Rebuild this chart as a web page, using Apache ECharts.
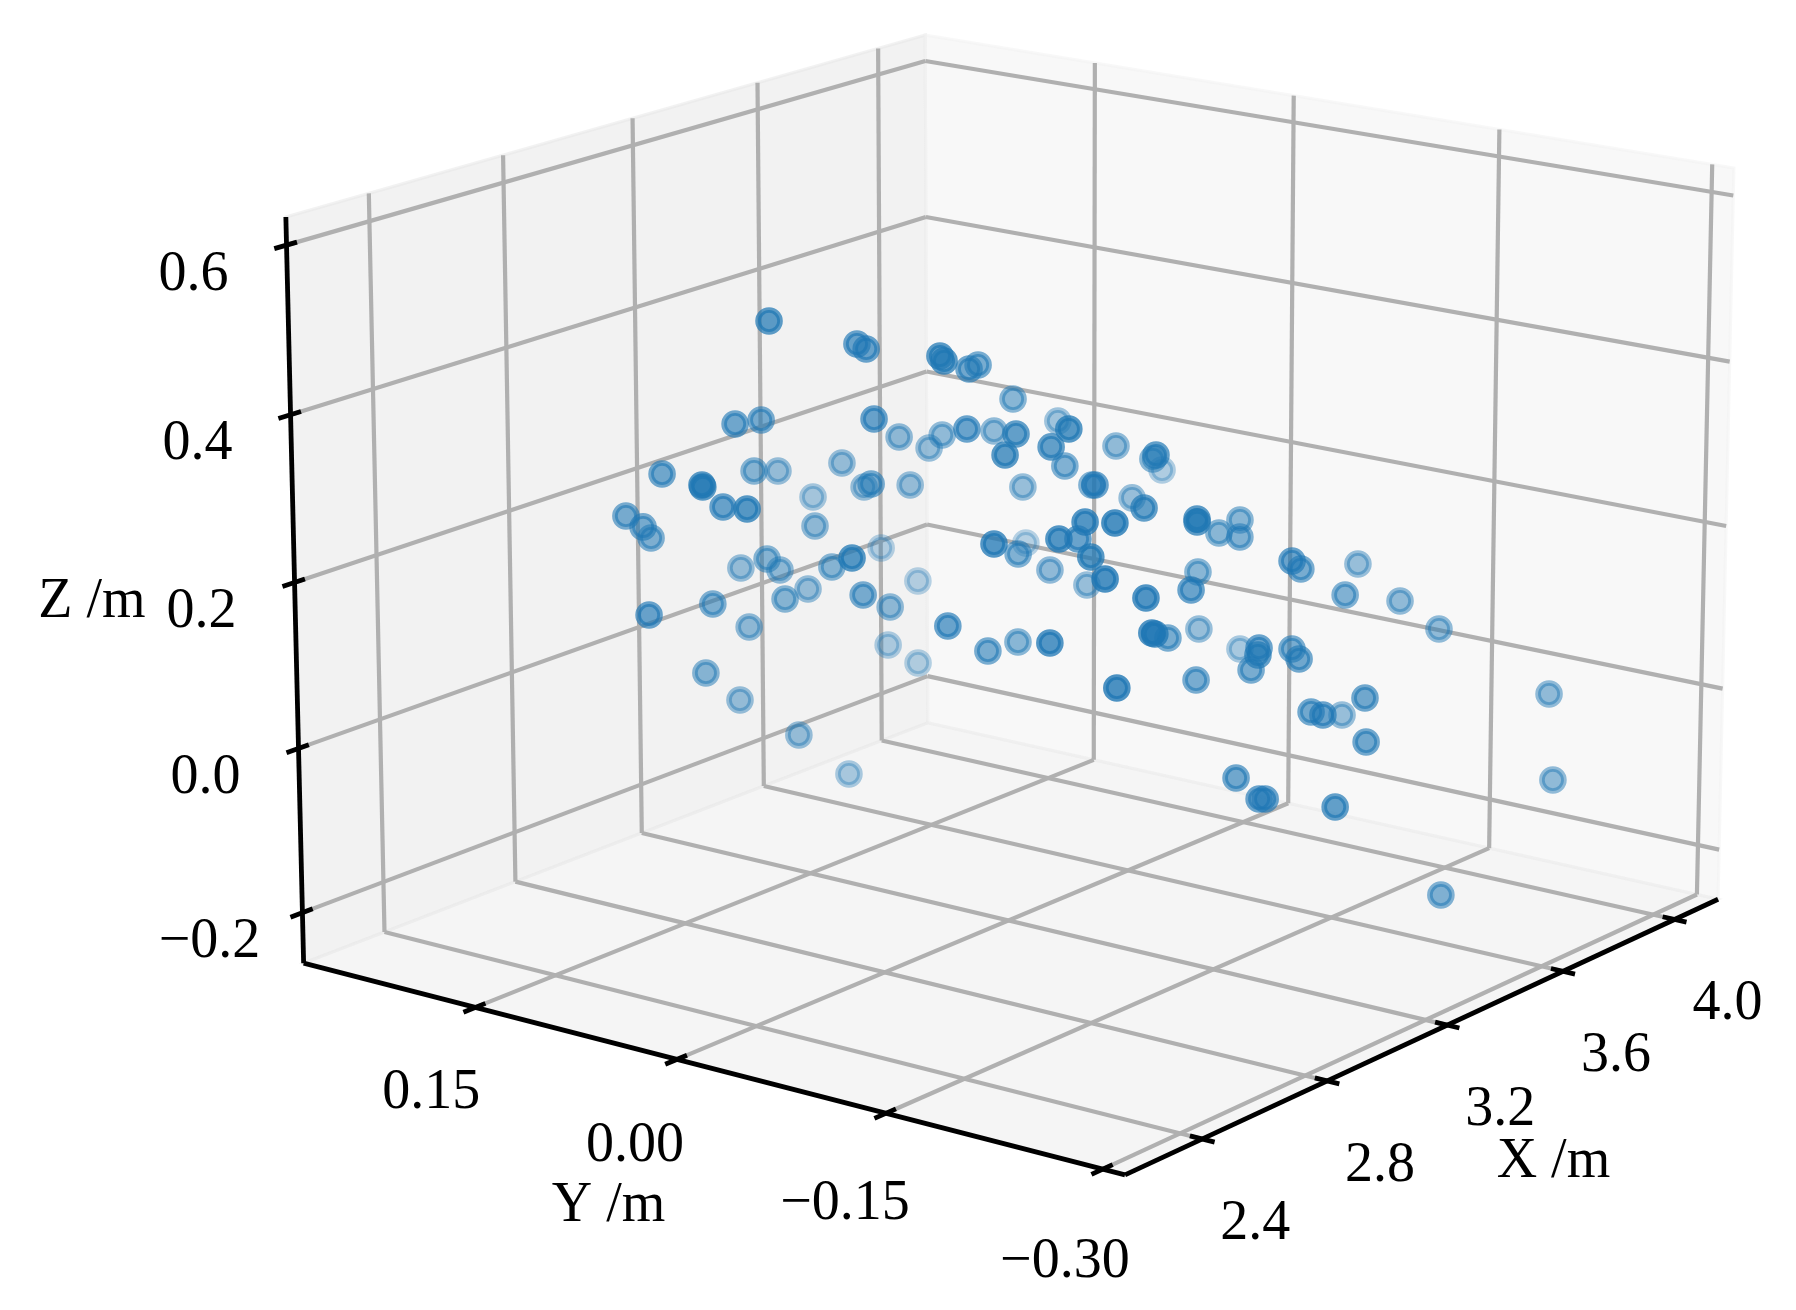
<!DOCTYPE html>
<html><head><meta charset="utf-8"><style>html,body{margin:0;padding:0;background:#fff}#c{width:1796px;height:1310px}</style>
<script src="https://cdn.jsdelivr.net/npm/echarts@6/dist/echarts.min.js"></script></head><body><div id="c"></div>
<script>
// ---- data, metres ----
const xValues=[2.346,2.605,2.614,2.482,2.485,2.830,2.949,2.539,2.675,2.595,3.146,3.198,3.283,2.697,3.261,2.435,2.165,2.165,2.388,2.165,2.855,3.092,3.172,3.333,3.009,3.189,2.777,3.245,2.479,2.495,2.603,2.263,2.907,3.605,2.834,2.949,3.007,3.636,3.079,2.839,2.723,3.065,2.648,2.261,2.889,2.597,3.467,3.559,2.845,2.715,2.951,3.007,3.301,3.190,3.556,2.555,2.644,2.679,2.517,3.116,3.379,3.400,2.794,3.330,3.878,3.140,2.821,3.506,2.760,2.707,2.706,3.378,3.408,3.292,2.473,2.398,2.437,2.780,2.530,2.366,3.786,3.026,3.270,3.415,2.468,3.337,2.889,3.016,3.241,3.749,3.392,3.674,2.363,3.096,2.387,2.461,2.507,3.059,3.531,2.337,3.075,3.789,2.944,2.831,3.143,3.199,3.094,3.087,2.990,3.667,3.154,3.138,2.974,2.884,2.891,2.859,3.709,3.813,3.782,3.382];
const yValues=[-0.0268,-0.0280,-0.0325,-0.1154,-0.1176,-0.0561,-0.0354,0.0450,0.0587,-0.0423,0.0681,0.0481,0.0775,-0.0849,0.0241,0.0736,-0.0216,-0.0222,0.0177,-0.0536,0.1077,0.1467,0.1172,0.1776,0.0992,0.1046,0.0027,0.0830,0.1117,0.1030,0.1239,-0.1041,0.0626,0.1893,0.0935,0.1115,0.1551,0.1681,0.1215,0.0815,-0.0037,0.0565,0.0893,0.0414,0.1207,-0.0939,0.1520,0.1504,-0.0658,0.1114,0.1432,0.1121,0.1438,-0.0060,0.0432,-0.1883,-0.1316,-0.1483,-0.1527,-0.0603,0.0295,-0.0344,-0.1958,-0.0766,0.0362,-0.0745,-0.1474,-0.0230,-0.1951,-0.2431,-0.2434,-0.1140,-0.1226,-0.1474,-0.2178,-0.2547,-0.2079,-0.1446,-0.2091,-0.2552,0.1191,-0.0467,-0.0150,-0.0099,-0.2605,-0.1079,-0.1999,-0.2426,-0.2014,-0.1359,-0.2011,-0.1818,-0.1799,-0.0307,-0.2129,-0.2661,-0.2581,-0.1469,-0.0669,-0.2697,-0.1635,-0.0418,-0.2355,-0.2588,-0.1877,-0.2045,-0.2316,-0.2417,-0.2702,-0.1425,-0.2650,-0.2694,-0.2137,-0.2490,-0.2517,-0.3065,-0.2026,-0.2602,-0.2700,-0.2726];
const zValues=[0.5828,0.5248,0.5193,0.5535,0.5482,0.4764,0.4597,0.4167,0.3995,0.4434,0.3154,0.3176,0.2811,0.4324,0.3220,0.3622,0.4165,0.4144,0.3483,0.3998,0.2993,0.2552,0.2642,0.1810,0.2150,0.2368,0.3287,0.2390,0.2939,0.2818,0.2470,0.3476,0.1915,0.0763,0.2006,0.1653,0.1447,0.0374,0.1207,0.1557,0.2064,0.1233,0.1735,0.2314,0.1009,0.2190,-0.0142,-0.0495,0.1444,0.0729,-0.0057,-0.0457,-0.1498,0.3795,0.2901,0.4842,0.4486,0.4346,0.4479,0.3263,0.2365,0.3048,0.4258,0.3120,0.1896,0.3051,0.3715,0.2238,0.3689,0.3794,0.3762,0.2289,0.2434,0.2470,0.3989,0.4203,0.3810,0.3130,0.3482,0.3617,0.0819,0.2285,0.1648,0.1247,0.3278,0.1852,0.2575,0.2888,0.2342,0.1481,0.1823,0.1291,0.3758,0.1071,0.2712,0.2910,0.2805,0.1584,0.0743,0.2476,0.1121,0.0041,0.1945,0.2107,0.1230,0.1461,0.1588,0.1008,0.1218,-0.0239,0.1160,0.0679,0.0288,0.0309,0.0309,0.0472,0.0974,0.0237,-0.0735,-0.1514];
const xTicks=[2.4,2.8,3.2,3.6,4.0];
const yTicks=[0.15,0.00,-0.15,-0.30];
const zTicks=[-0.2,0.0,0.2,0.4,0.6];
const xLim=[2.16,4.16],yLim=[-0.315,0.282],zLim=[-0.262,0.633];
// ---- camera: homogeneous projection of the unit box onto the picture plane ----
const camera=[[761.66502,-798.75455,-26.31091,1125.00562],[-187.39562,-139.92219,-807.25704,1174.83745],[0.09812,0.07447,-0.02519,1]];
const unit=(x,y,z)=>[(x-xLim[0])/(xLim[1]-xLim[0]),(y-yLim[0])/(yLim[1]-yLim[0]),(z-zLim[0])/(zLim[1]-zLim[0]),1];
const dot=(r,n)=>r[0]*n[0]+r[1]*n[1]+r[2]*n[2]+r[3]*n[3];
const depth=(x,y,z)=>dot(camera[2],unit(x,y,z));
const proj=(x,y,z)=>{const n=unit(x,y,z),w=dot(camera[2],n);return [dot(camera[0],n)/w,dot(camera[1],n)/w];};
const [x0,x1]=xLim,[y0,y1]=yLim,[z0,z1]=zLim;
const seg=(a,b)=>[...proj(...a),...proj(...b)];
const grid=[];
xTicks.forEach(x=>grid.push(seg([x,y0,z0],[x,y1,z0]),seg([x,y1,z0],[x,y1,z1])));
yTicks.forEach(y=>grid.push(seg([x0,y,z0],[x1,y,z0]),seg([x1,y,z0],[x1,y,z1])));
zTicks.forEach(z=>grid.push(seg([x0,y1,z],[x1,y1,z]),seg([x1,y1,z],[x1,y0,z])));
const axes=[seg([x0,y1,z0],[x0,y0,z0]),seg([x0,y0,z0],[x1,y0,z0]),seg([x0,y1,z0],[x0,y1,z1])];
xTicks.forEach(x=>axes.push(seg([x,y0-.0084,z0],[x,y0+.0084,z0])));
yTicks.forEach(y=>axes.push(seg([x0-.035,y,z0],[x0+.03,y,z0])));
zTicks.forEach(z=>axes.push(seg([x0-.035,y1,z],[x0+.03,y1,z])));
const poly=(g,...c)=>[...c.flatMap(p=>proj(...p)),g];
const panes=[
  poly(.90,[x0,y1,z0],[x1,y1,z0],[x1,y1,z1],[x0,y1,z1]),
  poly(.95,[x1,y0,z0],[x1,y1,z0],[x1,y1,z1],[x1,y0,z1]),
  poly(.925,[x0,y0,z0],[x1,y0,z0],[x1,y1,z0],[x0,y1,z0])];
// ---- text ----
const minus=s=>s.replace('-','\u2212');
const labels=[];
const place=(p,dx,dy,text)=>labels.push([p[0]+dx,p[1]+dy,text]);
const yLabelDx=[-44,-42,-41,-38],yLabelDy=[86,87,91,93];
xTicks.forEach(x=>place(proj(x,y0,z0),53,85,x.toFixed(1)));
yTicks.forEach((y,i)=>place(proj(x0,y,z0),yLabelDx[i],yLabelDy[i],minus(y.toFixed(2))));
zTicks.forEach(z=>place(proj(x0,y1,z),-93,30,minus(z.toFixed(1))));
place(proj((x0+x1)/2,y0,z0),118,132,'X /m');
place(proj(x0,(y0+y1)/2,z0),-91,141,'Y /m');
place(proj(x0,y1,(z0+z1)/2),-203,8,'Z /m');
// ---- marks: depth shading, far points first ----
const ws=xValues.map((x,i)=>depth(x,yValues[i],zValues[i]));
const wMin=Math.min(...ws),wMax=Math.max(...ws);
const order=xValues.map((_,i)=>i).sort((a,b)=>ws[b]-ws[a]);
const points=order.map(i=>{const a=1-0.62*(ws[i]-wMin)/(wMax-wMin),c=`rgba(31,119,180,${a.toFixed(3)})`;return {value:proj(xValues[i],yValues[i],zValues[i]),itemStyle:{color:c,borderColor:c,borderWidth:5.6}};});
const segments=(data,col,lw,z)=>({type:'custom',coordinateSystem:'cartesian2d',silent:true,z,data,encode:{x:[0,2],y:[1,3]},renderItem(p,api){const a=api.coord([api.value(0),api.value(1)]),b=api.coord([api.value(2),api.value(3)]);return {type:'line',shape:{x1:a[0],y1:a[1],x2:b[0],y2:b[1]},style:{stroke:col,lineWidth:lw,lineCap:'butt'}};}});
const chart=echarts.init(document.getElementById('c'),null,{renderer:'canvas'});
chart.setOption({animation:false,backgroundColor:'#fff',grid:{left:0,right:0,top:0,bottom:0},
xAxis:{type:'value',min:0,max:1796,show:false},yAxis:{type:'value',min:0,max:1310,inverse:true,show:false},
series:[
{type:'custom',coordinateSystem:'cartesian2d',silent:true,z:1,data:panes,encode:{x:[0,2,4,6],y:[1,3,5,7]},renderItem(p,api){const pt=[];for(let i=0;i<4;i++)pt.push(api.coord([api.value(2*i),api.value(2*i+1)]));const g=Math.round(api.value(8)*255);return {type:'polygon',shape:{points:pt},style:{fill:`rgba(${g},${g},${g},.5)`,stroke:`rgba(${g},${g},${g},.5)`,lineWidth:3}};}},
segments(grid,'#b0b0b0',4.2,2),segments(axes,'#000',4.8,3),
{type:'scatter',z:4,silent:true,symbolSize:22,data:points},
{type:'custom',coordinateSystem:'cartesian2d',silent:true,z:5,data:labels.map(l=>[l[0],l[1]]),encode:{x:0,y:1},renderItem(p,api){const a=api.coord([api.value(0),api.value(1)]);return {type:'text',x:a[0],y:a[1],style:{text:labels[p.dataIndex][2],fontFamily:'Liberation Serif',fontSize:56,fill:'#000',align:'center',verticalAlign:'middle'}};}}
]});
</script></body></html>
